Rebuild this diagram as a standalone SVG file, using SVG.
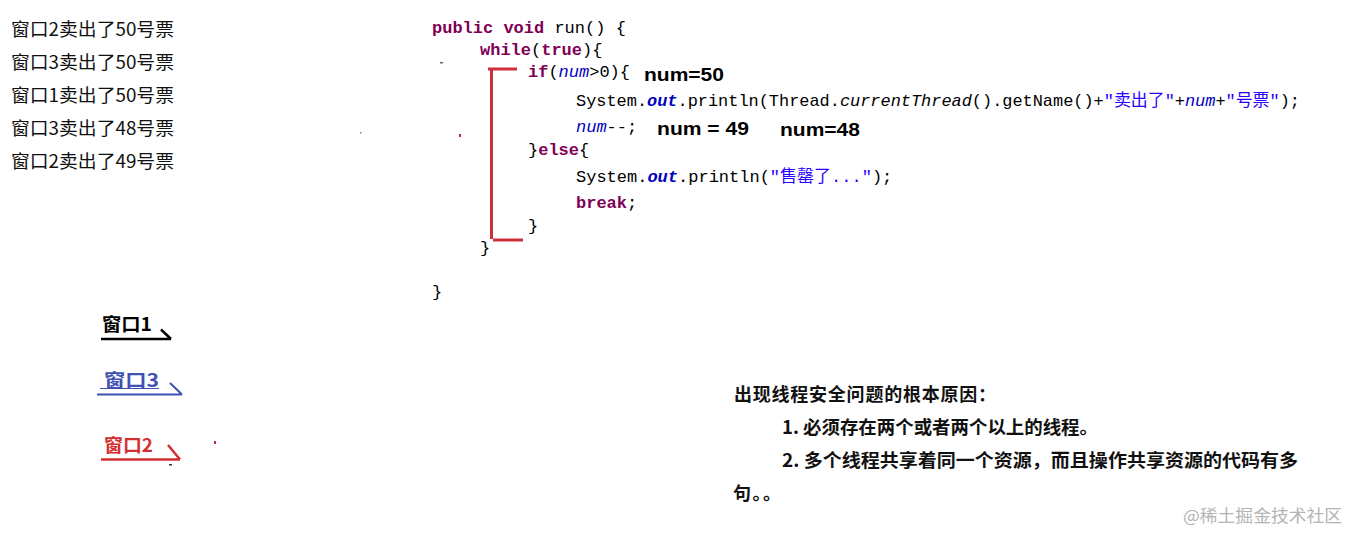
<svg xmlns="http://www.w3.org/2000/svg" width="1360" height="544" viewBox="0 0 1360 544">
<style>
.code{font-family:"Liberation Mono","Noto Sans CJK SC",monospace;font-size:17px;fill:#000;white-space:pre}
.kw{fill:#7f0055;font-weight:bold}
.fld{fill:#0000c0;font-style:italic}
.sf{fill:#0000c0;font-style:italic;font-weight:bold}
.str{fill:#2a00ff}
.it{font-style:italic}
.ann{font-family:"Liberation Sans","Noto Sans CJK SC",sans-serif;font-size:18px;font-weight:bold;fill:#000}
.log{font-family:"Noto Sans CJK SC","Liberation Sans",sans-serif;font-size:18px;fill:#111}
.lbl{font-family:"Noto Sans CJK SC","Liberation Sans",sans-serif;font-size:18px;font-weight:bold}
.note{font-family:"Noto Sans CJK SC","Liberation Sans",sans-serif;font-size:18px;font-weight:bold;fill:#111}
.wm{font-family:"Noto Sans CJK SC","Liberation Sans",sans-serif;font-size:17px;fill:#b4b4b4}
.ln{fill:none;stroke-linecap:butt}
</style>
<rect width="1360" height="544" fill="#fff"/>

<g id="output-log">
<text class="log" x="11" y="36" textLength="163" lengthAdjust="spacingAndGlyphs">窗口2卖出了50号票</text>
<text class="log" x="11" y="69" textLength="163" lengthAdjust="spacingAndGlyphs">窗口3卖出了50号票</text>
<text class="log" x="11" y="102" textLength="163" lengthAdjust="spacingAndGlyphs">窗口1卖出了50号票</text>
<text class="log" x="11" y="135" textLength="163" lengthAdjust="spacingAndGlyphs">窗口3卖出了48号票</text>
<text class="log" x="11" y="168" textLength="163" lengthAdjust="spacingAndGlyphs">窗口2卖出了49号票</text>
</g>

<g id="code">
<text class="code" x="432" y="33"><tspan class="kw">public void</tspan> run() {</text>
<text class="code" x="480" y="55"><tspan class="kw">while</tspan>(<tspan class="kw">true</tspan>){</text>
<text class="code" x="528" y="77"><tspan class="kw">if</tspan>(<tspan class="fld">num</tspan>&gt;0){</text>
<text class="code" x="576" y="106" textLength="724" lengthAdjust="spacingAndGlyphs">System.<tspan class="sf">out</tspan>.println(Thread.<tspan class="it">currentThread</tspan>().getName()+<tspan class="str">"卖出了"</tspan>+<tspan class="fld">num</tspan>+<tspan class="str">"号票"</tspan>);</text>
<text class="code" x="576" y="132"><tspan class="fld">num</tspan>--;</text>
<text class="code" x="528" y="155">}<tspan class="kw">else</tspan>{</text>
<text class="code" x="576" y="182">System.<tspan class="sf">out</tspan>.println(<tspan class="str">"售罄了..."</tspan>);</text>
<text class="code" x="576" y="208"><tspan class="kw">break</tspan>;</text>
<text class="code" x="528" y="231">}</text>
<text class="code" x="480" y="253">}</text>
<text class="code" x="432" y="297">}</text>
</g>

<g id="annotations">
<text class="ann" x="644" y="81" textLength="80" lengthAdjust="spacingAndGlyphs">num=50</text>
<text class="ann" x="657" y="135" textLength="92" lengthAdjust="spacingAndGlyphs">num = 49</text>
<text class="ann" x="780" y="136" textLength="80" lengthAdjust="spacingAndGlyphs">num=48</text>
</g>

<g id="bracket">
<path class="ln" d="M488 69 H517 M491.5 69 V239 M493 240 H523" stroke="#cf2f3a" stroke-width="3"/>
</g>

<g id="window1">
<text class="lbl" x="102" y="331" fill="#000" textLength="50" lengthAdjust="spacingAndGlyphs">窗口1</text>
<path class="ln" d="M101 339 H171 M161 329.5 L171 339" stroke="#000" stroke-width="2.5"/>
</g>
<g id="window3">
<text class="lbl" x="104" y="387" fill="#3f51b5" textLength="55" lengthAdjust="spacingAndGlyphs">窗口3</text>
<path class="ln" d="M100 388.5 H159" stroke="#3f51b5" stroke-width="1.2"/>
<path class="ln" d="M97 394.5 H182 M170 383 L182 394.5" stroke="#3f51b5" stroke-width="2"/>
</g>
<g id="window2">
<text class="lbl" x="104" y="452" fill="#d32f2f" textLength="49" lengthAdjust="spacingAndGlyphs">窗口2</text>
<path class="ln" d="M101 459.5 H180 M168 445 L180 459.5" stroke="#d32f2f" stroke-width="2.5"/>
</g>

<g id="specks">
<rect x="214" y="441" width="2" height="3" fill="#c0303a"/>
<rect x="169" y="464" width="3" height="1.5" fill="#333"/>
<rect x="440" y="62" width="3" height="1.5" fill="#666"/>
<rect x="459" y="134" width="2" height="3" fill="#c0303a"/>
<rect x="360" y="132" width="1.5" height="1.5" fill="#888"/>
</g>

<g id="root-cause">
<text class="note" x="734" y="401" textLength="262" lengthAdjust="spacing">出现线程安全问题的根本原因：</text>
<text class="note" x="782" y="434" textLength="316" lengthAdjust="spacingAndGlyphs">1. 必须存在两个或者两个以上的线程。</text>
<text class="note" x="782" y="467" textLength="516" lengthAdjust="spacingAndGlyphs">2. 多个线程共享着同一个资源，而且操作共享资源的代码有多</text>
<text class="note" x="733" y="500" textLength="48" lengthAdjust="spacing">句。。</text>
</g>

<g id="watermark">
<text class="wm" x="1183" y="522" textLength="159" lengthAdjust="spacingAndGlyphs">@稀土掘金技术社区</text>
</g>
</svg>
